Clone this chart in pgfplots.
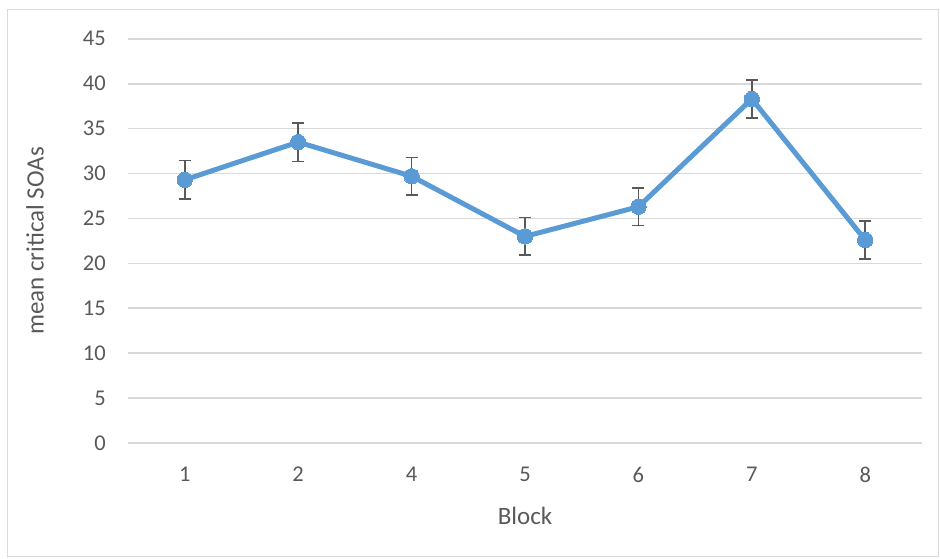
\documentclass[border=0pt]{standalone}
\usepackage{fontspec}
\setmainfont{Carlito}
\usepackage{pgfplots}
\usepackage{pgfplotstable}
\pgfplotsset{compat=1.18}

\definecolor{excelblue}{HTML}{5B9BD5}
\definecolor{gridgray}{HTML}{D9D9D9}
\definecolor{textgray}{HTML}{595959}

% x = category position, block = label, soa = mean, err = +- error
\pgfplotstableread{
x block soa  err
1 1     29.3 2.15
2 2     33.5 2.15
3 4     29.7 2.1
4 5     23.0 2.1
5 6     26.3 2.1
6 7     38.3 2.1
7 8     22.6 2.1
}\soatable

\begin{document}
\begin{tikzpicture}
    % page = 940 x 558, plot area lower-left at (0,0)
    \useasboundingbox (-128pt,-115pt) rectangle (812pt,443pt);
    \draw[gridgray, line width=1pt] (-120pt,-113pt) rectangle (810pt,433pt);
    \begin{axis}[
        at={(0pt,0pt)}, anchor=south west,
        scale only axis,
        width=794pt, height=404.2pt,
        xmin=0.5, xmax=7.5,
        ymin=0, ymax=45,
        xtick={1,2,3,4,5,6,7},
        xticklabels={1,2,4,5,6,7,8},
        ytick={0,5,...,45},
        axis line style={draw=none},
        major tick length=0pt,
        ymajorgrids=true,
        grid style={gridgray, line width=1.6pt},
        /pgf/number format/assume math mode=true,
        tick label style={font=\fontsize{22.5}{24}\selectfont, text=textgray},
        yticklabel style={anchor=east, inner sep=0pt, xshift=-22pt},
        xticklabel style={anchor=center, inner sep=0pt, yshift=-31.5pt},
        xlabel={Block},
        ylabel={mean critical SOAs},
        label style={font=\fontsize{25}{27}\selectfont, text=textgray},
        xlabel style={at={(axis description cs:0.5,0)}, anchor=center, yshift=-73pt},
        ylabel style={at={(axis description cs:0,0.5)}, anchor=center, rotate=0, yshift=93pt},
        clip=false,
    ]
    % error bars first, so the markers sit on top of them
    \addplot[
        draw=none, mark=none,
        error bars/.cd,
            y dir=both, y explicit,
            error mark=-,
            error mark options={textgray, line width=1.6pt, mark size=6pt, rotate=90},
            error bar style={textgray, line width=1.6pt},
    ] table[x=x, y=soa, y error=err] {\soatable};
    \addplot[
        color=excelblue, line width=5pt,
        mark=*, mark size=7.7pt, mark options={fill=excelblue, draw=excelblue, line width=0pt},
    ] table[x=x, y=soa] {\soatable};
    \end{axis}
\end{tikzpicture}
\end{document}
